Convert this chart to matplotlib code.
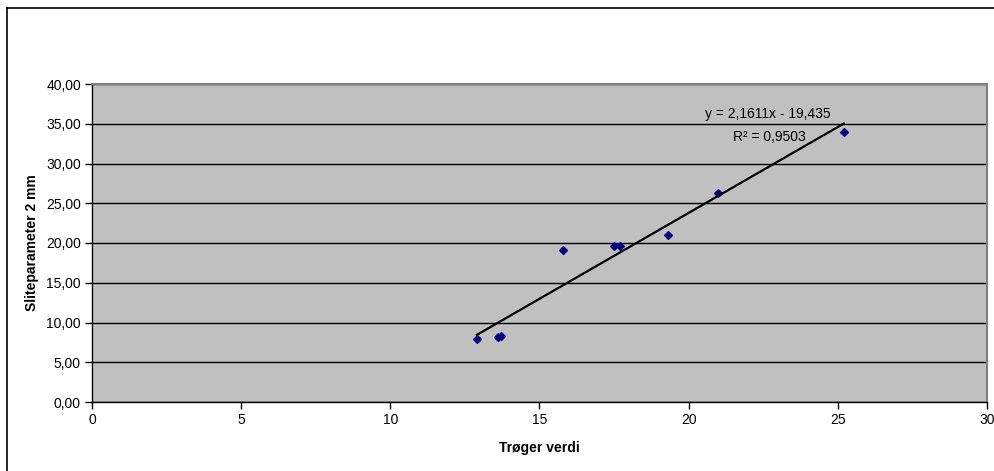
import matplotlib
matplotlib.use("Agg")
import matplotlib.pyplot as plt
from matplotlib.lines import Line2D
from matplotlib.ticker import FuncFormatter, MultipleLocator

plt.rcParams["font.family"] = ["Liberation Sans", "DejaVu Sans"]

troger = [12.9, 13.6, 13.7, 15.8, 17.5, 17.7, 19.3, 21.0, 25.2]
slite = [7.9, 8.2, 8.3, 19.1, 19.6, 19.6, 21.0, 26.3, 34.0]
slope = 2.1611
intercept = -19.435
r2 = 0.9503


def comma(v, decimals):
    return f"{v:.{decimals}f}".replace(".", ",")


fig = plt.figure(figsize=(9.95, 4.71), dpi=100)
W, H = 995, 471
ax = fig.add_axes([92 / W, (H - 402) / H, (987 - 92) / W, (402 - 84) / H])

# outer chart border (only top and left are inside the picture)
fig.add_artist(Line2D([7 / W, 1.0], [1 - 8 / H, 1 - 8 / H], transform=fig.transFigure,
                      color="black", linewidth=1.2))
fig.add_artist(Line2D([7 / W, 7 / W], [0, 1 - 8 / H], transform=fig.transFigure,
                      color="black", linewidth=1.2))

ax.set_facecolor("#c0c0c0")
ax.set_xlim(0, 30)
ax.set_ylim(0, 40)
ax.xaxis.set_major_locator(MultipleLocator(5))
ax.yaxis.set_major_locator(MultipleLocator(5))
ax.yaxis.set_major_formatter(FuncFormatter(lambda v, p: comma(v, 2)))
ax.grid(axis="y", color="black", linewidth=1)
ax.set_axisbelow(True)

for side in ["top", "right"]:
    ax.spines[side].set_color("#808080")
    ax.spines[side].set_linewidth(1.5)
for side in ["left", "bottom"]:
    ax.spines[side].set_color("black")
    ax.spines[side].set_linewidth(1)

ax.tick_params(direction="out", length=5, width=1, labelsize=10, pad=3)

ax.scatter(troger, slite, marker="D", s=16, color="#000080", zorder=3)

x0, x1 = min(troger), max(troger)
ax.plot([x0, x1], [slope * x0 + intercept, slope * x1 + intercept],
        color="black", linewidth=1.6, zorder=4)

ax.text(22.65, 36.2, f"y = {comma(slope, 4)}x - {comma(-intercept, 3)}",
        ha="center", va="center", fontsize=10)
ax.text(22.7, 33.3, f"R² = {comma(r2, 4)}", ha="center", va="center", fontsize=10)

ax.set_xlabel("Trøger verdi", fontsize=10, fontweight="bold", labelpad=10)
ax.set_ylabel("Sliteparameter 2 mm", fontsize=10, fontweight="bold", labelpad=5)

fig.savefig("out.png", dpi=100)
